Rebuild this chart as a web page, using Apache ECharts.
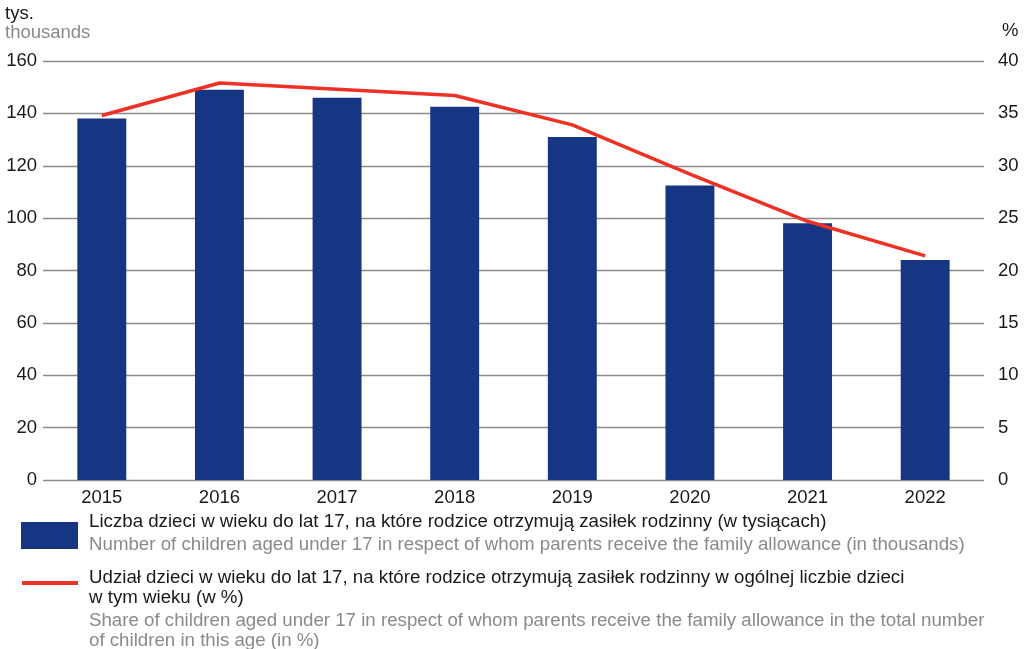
<!DOCTYPE html>
<html><head><meta charset="utf-8">
<script src="https://cdn.jsdelivr.net/npm/echarts@6/dist/echarts.min.js"></script>
<style>html,body{margin:0;padding:0;background:#fff}#c{width:1029px;height:649px}</style>
</head><body><div id="c"></div>
<script>
const years = ['2015','2016','2017','2018','2019','2020','2021','2022'];
const childrenThousands = [138, 149, 146, 142.5, 131, 112.5, 98, 84];
const sharePercent = [34.8, 37.9, 37.3, 36.7, 33.9, 29.2, 24.7, 21.4];
const leftTicks = {min: 0, max: 160, interval: 20};
const rightTicks = {min: 0, max: 40, interval: 5};

const F = 'Liberation Sans, Arial, sans-serif';
const FS = 18.5;
const FONT = FS + 'px ' + F;
const LFONT = '18.7px ' + F;
const BLUE = '#163583', RED = '#ee3124', DARK = '#1a1a1a', GRAY = '#8a8a8a';
const chart = echarts.init(document.getElementById('c'));
chart.setOption({
  animation: false,
  grid: {left: 43, right: 45, top: 61, bottom: 169, containLabel: false},
  xAxis: {type: 'category', data: years,
    axisLine: {show: false}, axisTick: {show: false},
    axisLabel: {color: DARK, fontSize: FS, fontFamily: F, margin: 8}},
  yAxis: [
    {type: 'value', ...leftTicks, position: 'left',
      axisLine: {show: false}, axisTick: {show: false},
      axisLabel: {color: DARK, fontSize: FS, fontFamily: F, margin: 6},
      splitLine: {lineStyle: {color: '#8c8c8c', width: 1.3}}},
    {type: 'value', ...rightTicks, position: 'right',
      axisLine: {show: false}, axisTick: {show: false},
      axisLabel: {color: DARK, fontSize: FS, fontFamily: F, margin: 14, align: 'left'},
      splitLine: {show: false}}
  ],
  series: [
    {type: 'bar', data: childrenThousands, yAxisIndex: 0, barWidth: '41.6%',
      itemStyle: {color: BLUE}},
    {type: 'line', data: sharePercent, yAxisIndex: 1, symbol: 'none',
      lineStyle: {color: RED, width: 3.5}}
  ],
  graphic: [
    {type: 'text', left: 5, top: 4, style: {text: 'tys.', fill: DARK, font: FONT}},
    {type: 'text', left: 5, top: 23, style: {text: 'thousands', fill: GRAY, font: FONT}},
    {type: 'text', left: 1002, top: 21, style: {text: '%', fill: DARK, font: FONT}},
    {type: 'rect', shape: {x: 21, y: 522, width: 57, height: 27}, style: {fill: BLUE}},
    {type: 'text', left: 89, top: 512, style: {text: 'Liczba dzieci w wieku do lat 17, na które rodzice otrzymują zasiłek rodzinny (w tysiącach)', fill: DARK, font: LFONT}},
    {type: 'text', left: 89, top: 535, style: {text: 'Number of children aged under 17 in respect of whom parents receive the family allowance (in thousands)', fill: GRAY, font: LFONT}},
    {type: 'line', shape: {x1: 22, y1: 583, x2: 78, y2: 583}, style: {stroke: RED, lineWidth: 4}},
    {type: 'text', left: 89, top: 568, style: {text: 'Udział dzieci w wieku do lat 17, na które rodzice otrzymują zasiłek rodzinny w ogólnej liczbie dzieci', fill: DARK, font: LFONT}},
    {type: 'text', left: 89, top: 588, style: {text: 'w tym wieku (w %)', fill: DARK, font: LFONT}},
    {type: 'text', left: 89, top: 611, style: {text: 'Share of children aged under 17 in respect of whom parents receive the family allowance in the total number', fill: GRAY, font: LFONT}},
    {type: 'text', left: 89, top: 631, style: {text: 'of children in this age (in %)', fill: GRAY, font: LFONT}}
  ]
});
</script></body></html>
